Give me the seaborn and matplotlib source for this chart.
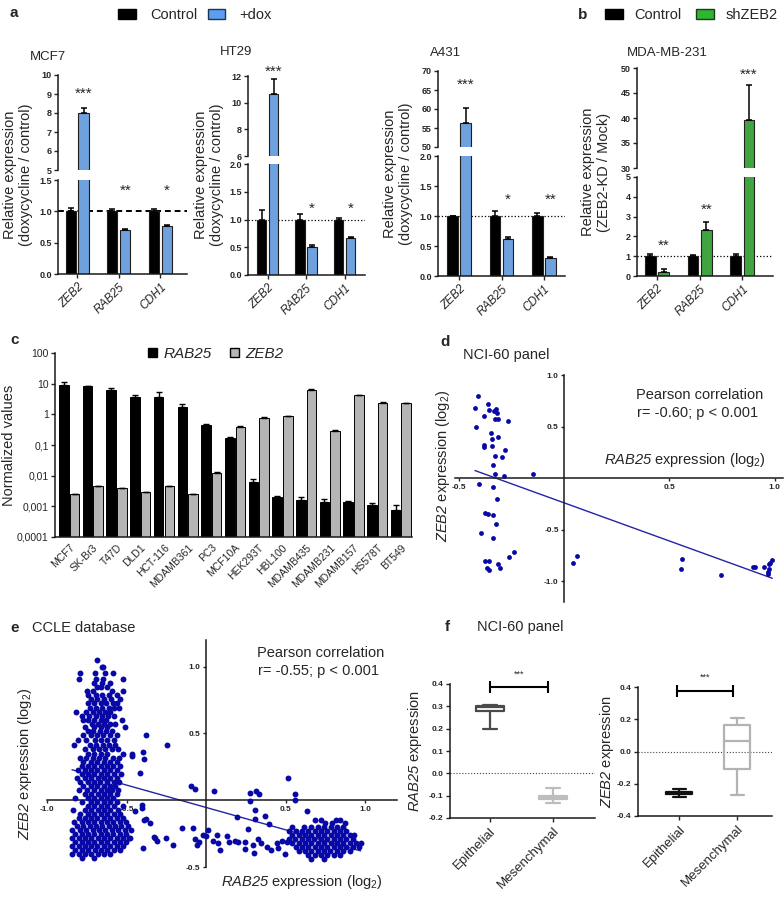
import numpy as np
import pandas as pd
import matplotlib
matplotlib.use('Agg')
import matplotlib.pyplot as plt
from matplotlib.patches import Patch
from matplotlib.ticker import NullLocator
import seaborn as sns

#-------------------------------------------------
# a / b : qPCR bars (broken y axis)
genes = ['ZEB2', 'RAB25', 'CDH1']
mcf7_ctrl, mcf7_ctrl_err = [1.0, 1.0, 1.0], [0.06, 0.04, 0.03]
mcf7_dox, mcf7_dox_err = [7.98, 0.71, 0.77], [0.26, 0.01, 0.015]
ht29_ctrl, ht29_ctrl_err = [1.0, 1.0, 1.0], [0.18, 0.10, 0.03]
ht29_dox, ht29_dox_err = [10.65, 0.51, 0.675], [1.12, 0.03, 0.01]
a431_ctrl, a431_ctrl_err = [1.0, 1.0, 1.0], [0.0, 0.08, 0.05]
a431_dox, a431_dox_err = [56.3, 0.62, 0.30], [4.0, 0.03, 0.02]
mda_ctrl, mda_ctrl_err = [1.0, 1.0, 1.0], [0.10, 0.08, 0.10]
mda_sh, mda_sh_err = [0.22, 2.32, 39.5], [0.12, 0.42, 7.2]

# c : cell line panel (log scale)
cells = ['MCF7', 'SK-Br3', 'T47D', 'DLD1', 'HCT-116', 'MDAMB361', 'PC3', 'MCF10A',
         'HEK293T', 'HBL100', 'MDAMB435', 'MDAMB231', 'MDAMB157', 'HS578T', 'BT549']
c_rab25 = [9.2, 8.1, 6.3, 3.8, 3.8, 1.8, 0.45, 0.17, 0.0063, 0.0020, 0.0016, 0.0014, 0.0014, 0.0011, 0.00074]
c_rab25_err = [1.8, 0.4, 1.1, 0.6, 1.4, 0.3, 0.03, 0.01, 0.0017, 0.0001, 0.0004, 0.0003, 0.0001, 0.0002, 0.0004]
c_zeb2 = [0.0026, 0.0047, 0.0041, 0.0030, 0.0047, 0.0025, 0.0125, 0.40, 0.78, 0.85, 6.0, 0.29, 4.3, 2.4, 2.3]
c_zeb2_err = [0, 0, 0, 0, 0, 0, 0.001, 0.01, 0.02, 0.02, 0.6, 0.01, 0.1, 0.05, 0.1]

# d : NCI-60 scatter
d_x = [-0.41, -0.425, -0.42, -0.365, -0.357, -0.381, -0.333, -0.325, -0.322, -0.329, -0.317, -0.27,
       -0.348, -0.317, -0.346, -0.381, -0.381, -0.346, -0.284, -0.329, -0.298, -0.341, -0.33, -0.287,
       -0.148, -0.405, -0.337, -0.321, -0.376, -0.365, -0.341, -0.325, -0.395, -0.341, -0.241, -0.265,
       -0.376, -0.357, -0.316, -0.367, -0.36, -0.306, 0.06, 0.041, 0.56, 0.556, 0.746, 0.897, 0.905,
       0.952, 0.973, 0.968, 0.973, 0.989, 0.979, 0.97]
d_y = [0.80, 0.68, 0.50, 0.72, 0.66, 0.60, 0.655, 0.667, 0.63, 0.57, 0.57, 0.556, 0.44, 0.40, 0.384,
       0.325, 0.30, 0.31, 0.276, 0.218, 0.205, 0.127, 0.036, 0.02, 0.042, -0.059, -0.088, -0.205,
       -0.338, -0.348, -0.358, -0.44, -0.533, -0.576, -0.715, -0.76, -0.803, -0.803, -0.83, -0.875,
       -0.894, -0.868, -0.758, -0.826, -0.784, -0.885, -0.943, -0.865, -0.865, -0.859, -0.878, -0.93,
       -0.836, -0.797, -0.823, -0.91]

# e : CCLE scatter, read row by row (y, [x ...])
e_left_rows = [
    (1.05, [-0.684]),
    (1.00, [-0.656, -0.648]),
    (0.95, [-0.792, -0.698, -0.636, -0.587]),
    (0.91, [-0.797, -0.692, -0.646, -0.52]),
    (0.88, [-0.704, -0.652, -0.605]),
    (0.85, [-0.687, -0.662, -0.625]),
    (0.82, [-0.747, -0.709, -0.593, -0.521]),
    (0.785, [-0.74, -0.69, -0.652, -0.613, -0.562]),
    (0.755, [-0.722, -0.683, -0.641, -0.598, -0.541]),
    (0.725, [-0.744, -0.703, -0.661, -0.628, -0.588, -0.557]),
    (0.69, [-0.731, -0.694, -0.652, -0.609, -0.578, -0.545]),
    (0.66, [-0.818, -0.752, -0.712, -0.671, -0.633, -0.601]),
    (0.63, [-0.782, -0.733, -0.692, -0.655, -0.617, -0.582]),
    (0.60, [-0.772, -0.741, -0.702, -0.663, -0.628, -0.53]),
    (0.57, [-0.718, -0.681, -0.643, -0.607, -0.574]),
    (0.545, [-0.761, -0.702, -0.659, -0.621, -0.509]),
    (0.515, [-0.743, -0.708, -0.668, -0.632, -0.592]),
    (0.485, [-0.771, -0.724, -0.684, -0.648, -0.603, -0.561]),
    (0.45, [-0.803, -0.752, -0.699, -0.662, -0.623, -0.581]),
    (0.41, [-0.83, -0.731, -0.692, -0.651, -0.612, -0.572]),
    (0.38, [-0.762, -0.713, -0.672, -0.633, -0.594, -0.553]),
    (0.35, [-0.741, -0.702, -0.661, -0.622, -0.52, -0.467]),
    (0.32, [-0.792, -0.753, -0.711, -0.672, -0.634, -0.583, -0.545]),
    (0.29, [-0.771, -0.722, -0.683, -0.643, -0.604, -0.562]),
    (0.26, [-0.782, -0.741, -0.702, -0.662, -0.623, -0.584, -0.54]),
    (0.23, [-0.803, -0.762, -0.721, -0.683, -0.641, -0.602, -0.563]),
    (0.20, [-0.781, -0.743, -0.702, -0.661, -0.622, -0.581, -0.532]),
    (0.17, [-0.812, -0.762, -0.724, -0.682, -0.643, -0.603, -0.561]),
    (0.14, [-0.792, -0.741, -0.703, -0.664, -0.624, -0.582, -0.548]),
    (0.11, [-0.771, -0.722, -0.684, -0.643, -0.604, -0.572]),
    (0.08, [-0.802, -0.751, -0.703, -0.662, -0.621, -0.592, -0.551]),
    (0.05, [-0.762, -0.721, -0.682, -0.644, -0.603, -0.563]),
    (0.02, [-0.822, -0.742, -0.703, -0.661, -0.622, -0.583]),
    (-0.01, [-0.781, -0.722, -0.684, -0.642, -0.603, -0.561]),
    (-0.04, [-0.742, -0.703, -0.663, -0.624, -0.582, -0.522]),
    (-0.07, [-0.835, -0.762, -0.722, -0.681, -0.642, -0.601, -0.552]),
    (-0.10, [-0.791, -0.743, -0.702, -0.663, -0.621, -0.582, -0.541]),
    (-0.13, [-0.802, -0.761, -0.723, -0.684, -0.643, -0.602, -0.563, -0.521]),
    (-0.16, [-0.831, -0.782, -0.741, -0.702, -0.662, -0.621, -0.583, -0.542, -0.502]),
    (-0.19, [-0.812, -0.772, -0.731, -0.692, -0.652, -0.613, -0.571, -0.532, -0.49]),
    (-0.22, [-0.842, -0.791, -0.752, -0.711, -0.672, -0.633, -0.592, -0.551, -0.512, -0.471]),
    (-0.25, [-0.821, -0.782, -0.743, -0.702, -0.661, -0.622, -0.583, -0.541, -0.503]),
    (-0.28, [-0.842, -0.801, -0.762, -0.721, -0.682, -0.643, -0.601, -0.562, -0.523, -0.482]),
    (-0.31, [-0.822, -0.781, -0.742, -0.703, -0.662, -0.621, -0.582, -0.543, -0.501]),
    (-0.34, [-0.843, -0.802, -0.761, -0.722, -0.683, -0.641, -0.602, -0.561, -0.522]),
    (-0.37, [-0.821, -0.782, -0.743, -0.701, -0.662, -0.623, -0.581, -0.54]),
    (-0.40, [-0.842, -0.801, -0.762, -0.722, -0.681, -0.642, -0.603]),
    (-0.43, [-0.781, -0.702]),
]
e_mid_x = [-0.377, -0.247, -0.467, -0.394, -0.39, -0.415, -0.092, -0.071, 0.052, 0.273, 0.312, 0.335,
           0.277, 0.516, 0.558, 0.558, -0.403, -0.403, -0.377, -0.352, 0.308, 0.193, 0.308, 0.373,
           0.398, 0.266, -0.149, -0.08, 0.013, -0.021, 0.0, -0.069, -0.044, -0.058, -0.321, -0.306,
           -0.206, -0.394, -0.478, 0.067, 0.046, 0.073, 0.088, 0.134, 0.147, 0.203, 0.245, 0.245,
           0.294, 0.327, 0.302, 0.346, 0.382, 0.411, 0.445, 0.455, 0.499, 0.476, 0.507, 0.184,
           -0.388, -0.325, -0.253, -0.447]
e_mid_y = [0.49, 0.41, 0.33, 0.36, 0.306, 0.207, 0.11, 0.085, 0.07, 0.055, 0.067, 0.045,
           -0.007, 0.167, 0.045, 0.0, -0.037, -0.057, -0.142, -0.167, -0.07, -0.122, -0.139, -0.117,
           -0.179, -0.214, -0.211, -0.209, -0.224, -0.259, -0.269, -0.289, -0.313, -0.338, -0.284, -0.308,
           -0.333, -0.358, -0.284, -0.264, -0.304, -0.323, -0.373, -0.269, -0.313, -0.313, -0.313, -0.363,
           -0.333, -0.289, -0.393, -0.323, -0.348, -0.373, -0.323, -0.36, -0.403, -0.304, -0.313, -0.304,
           -0.149, -0.274, -0.286, -0.082]
e_right_rows = [
    (-0.08, [0.637]),
    (-0.15, [0.686, 0.721, 0.818, 0.843]),
    (-0.17, [0.748, 0.79, 0.871]),
    (-0.20, [0.542, 0.618, 0.661, 0.702, 0.741, 0.782, 0.823, 0.862]),
    (-0.23, [0.521, 0.562, 0.601, 0.643, 0.682, 0.722, 0.761, 0.803, 0.842, 0.881]),
    (-0.26, [0.541, 0.582, 0.622, 0.661, 0.703, 0.741, 0.782, 0.822, 0.861, 0.902, 0.931]),
    (-0.29, [0.523, 0.561, 0.603, 0.642, 0.681, 0.722, 0.762, 0.801, 0.843, 0.882, 0.921]),
    (-0.32, [0.542, 0.581, 0.621, 0.662, 0.702, 0.741, 0.782, 0.821, 0.862, 0.902, 0.941, 0.972]),
    (-0.35, [0.563, 0.602, 0.641, 0.683, 0.722, 0.761, 0.802, 0.841, 0.882, 0.921, 0.962]),
    (-0.38, [0.582, 0.623, 0.662, 0.701, 0.742, 0.781, 0.822, 0.861, 0.902]),
    (-0.41, [0.641, 0.682, 0.722, 0.763, 0.801, 0.842]),
    (-0.44, [0.662, 0.741]),
]

# f : NCI-60 boxes (min, q1, median, q3, max)
f_groups = ['Epithelial', 'Mesenchymal']
f_rab_epi = [0.197, 0.277, 0.296, 0.301, 0.305]
f_rab_mes = [-0.1325, -0.116, -0.105, -0.102, -0.0635]
f_zeb_epi = [-0.285, -0.264, -0.258, -0.252, -0.235]
f_zeb_mes = [-0.27, -0.109, 0.064, 0.163, 0.208]

#-------------------------------------------------
W, H = 784, 901
BLUE, GREEN, GREY = '#5ba0f0', '#2fb52f', '#b5b5b5'
DOT = '#0808a6'

sns.set_style('ticks')
plt.rcParams['font.family'] = ['Liberation Sans', 'DejaVu Sans']
# mathtext: rm -> italic (gene names), sf -> upright (subscript)
plt.rcParams['mathtext.fontset'] = 'custom'
plt.rcParams['mathtext.rm'] = 'Liberation Sans:italic'
plt.rcParams['mathtext.it'] = 'Liberation Sans:italic'
plt.rcParams['mathtext.sf'] = 'Liberation Sans'
plt.rcParams['axes.linewidth'] = 1.1
plt.rcParams['axes.edgecolor'] = '#1a1a1a'

fig = plt.figure(figsize=(W / 100, H / 100), dpi=100)


def rect(x0, y0, x1, y1):
    return [x0 / W, 1 - y1 / H, (x1 - x0) / W, (y1 - y0) / H]


def ftext(x, y, s, **kw):
    return fig.text(x / W, 1 - y / H, s, **kw)


def bold_ticks(ax, size=6.5):
    ax.tick_params(axis='y', labelsize=size, length=3, width=1, pad=1.5)
    for t in ax.get_yticklabels():
        t.set_fontweight('bold')


def qpcr(box, ctrl, ctrl_err, trt, trt_err, trt_name, trt_col,
         lim_hi, lim_lo, tk_hi, tk_lo, fmt_hi, fmt_lo, xlim, stars, ref):
    x0, x1, yt, yg1, yg2, yb = box
    ax_hi = fig.add_axes(rect(x0, yt, x1, yg1))
    ax_lo = fig.add_axes(rect(x0, yg2, x1, yb))
    df = pd.DataFrame({'gene': genes * 2, 'grp': ['Control'] * 3 + [trt_name] * 3,
                       'val': ctrl + trt})
    err = ctrl_err + trt_err
    xs = []
    for ax, lim, tk, fmt in ((ax_hi, lim_hi, tk_hi, fmt_hi), (ax_lo, lim_lo, tk_lo, fmt_lo)):
        sns.barplot(data=df, x='gene', y='val', hue='grp', palette=['black', trt_col],
                    width=0.62, gap=0.2, errorbar=None, edgecolor='#202020', linewidth=0.8,
                    legend=False, ax=ax)
        xs = [p.get_x() + p.get_width() / 2 for c in ax.containers for p in c]
        hs = [p.get_height() for c in ax.containers for p in c]
        ax.errorbar(xs, hs, yerr=[[0] * 6, err], fmt='none', ecolor='black',
                    elinewidth=1.1, capsize=2.3, capthick=1.1)
        ax.set_xlim(*xlim)
        ax.set_ylim(*lim)
        ax.set_yticks(tk, labels=[fmt.format(v) for v in tk])
        ax.set_xlabel('')
        ax.set_ylabel('')
        sns.despine(ax=ax)
        bold_ticks(ax)
    ax_hi.spines['bottom'].set_visible(False)
    ax_hi.tick_params(axis='x', bottom=False, labelbottom=False)
    ax_lo.set_xticks(range(3))
    ax_lo.set_xticklabels(genes, rotation=45, ha='right', rotation_mode='anchor',
                          style='italic', fontsize=8.5)
    ax_lo.tick_params(axis='x', length=3, width=1, pad=2)
    ax_lo.axhline(1.0, ls=ref[0], lw=ref[1], color='black', zorder=0.5)
    for part, i, y, s in stars:
        ax = ax_hi if part == 'hi' else ax_lo
        ax.text(xs[i], y, s, ha='center', va='center', fontsize=11, clip_on=False)
    return ax_hi, ax_lo


# ---- panel a
qpcr((58, 187, 75, 170, 180, 274), mcf7_ctrl, mcf7_ctrl_err, mcf7_dox, mcf7_dox_err,
     '+dox', BLUE, (5, 10), (0, 1.5), [5, 6, 7, 8, 9, 10], [0, 0.5, 1.0, 1.5], '{:.0f}', '{:.1f}',
     (-0.46, 2.64), [('hi', 3, 9.0, '***'), ('lo', 4, 1.32, '**'), ('lo', 5, 1.32, '*')],
     ((0, (3, 2)), 1.4))
qpcr((248, 365, 76, 156, 164, 275), ht29_ctrl, ht29_ctrl_err, ht29_dox, ht29_dox_err,
     '+dox', BLUE, (6, 12), (0, 2.0), [6, 8, 10, 12], [0, 0.5, 1.0, 1.5, 2.0], '{:.0f}', '{:.1f}',
     (-0.51, 2.53), [('hi', 3, 12.35, '***'), ('lo', 4, 1.2, '*'), ('lo', 5, 1.2, '*')],
     (':', 0.9))
qpcr((438, 565, 71, 147, 156, 276), a431_ctrl, a431_ctrl_err, a431_dox, a431_dox_err,
     '+dox', BLUE, (50, 70), (0, 2.0), [50, 55, 60, 65, 70], [0, 0.5, 1.0, 1.5, 2.0], '{:.0f}', '{:.1f}',
     (-0.5, 2.5), [('hi', 3, 66.3, '***'), ('lo', 4, 1.27, '*'), ('lo', 5, 1.27, '**')],
     (':', 0.9))
for x, y, s in ((30, 57, 'MCF7'), (220, 52, 'HT29'), (430, 53, 'A431')):
    ftext(x, y, s, fontsize=9.5, va='center')
for x, yc in ((18, 175), (209, 175), (398, 174)):
    ftext(x, yc, 'Relative expression\n(doxycycline / control)', rotation=90,
          ha='center', va='center', fontsize=10.5, linespacing=1.1)
ftext(10, 13, 'a', fontsize=11, fontweight='bold', va='center')
fig.legend(handles=[Patch(facecolor='black', edgecolor='black'),
                    Patch(facecolor=BLUE, edgecolor='#1c3550')],
           labels=['Control', '+dox'], loc='center left',
           bbox_to_anchor=(118 / W, 1 - 15 / H), ncol=2, frameon=False, fontsize=10.5,
           handlelength=1.2, handleheight=0.7, handletextpad=1.0, columnspacing=0.7,
           borderpad=0, borderaxespad=0)

# ---- panel b
qpcr((637, 773, 68, 168, 177, 276), mda_ctrl, mda_ctrl_err, mda_sh, mda_sh_err,
     'shZEB2', GREEN, (30, 50), (0, 5), [30, 35, 40, 45, 50], [0, 1, 2, 3, 4, 5], '{:.0f}', '{:.0f}',
     (-0.47, 2.72), [('hi', 5, 48.6, '***'), ('lo', 4, 3.35, '**'), ('lo', 3, 1.55, '**')],
     (':', 0.9))
ftext(667, 53, 'MDA-MB-231', fontsize=9.5, ha='center', va='center')
ftext(596, 172, 'Relative expression\n(ZEB2-KD / Mock)', rotation=90,
      ha='center', va='center', fontsize=10.5, linespacing=1.1)
ftext(578, 15, 'b', fontsize=11, fontweight='bold', va='center')
fig.legend(handles=[Patch(facecolor='black', edgecolor='black'),
                    Patch(facecolor=GREEN, edgecolor='#1c3a1c')],
           labels=['Control', 'shZEB2'], loc='center left',
           bbox_to_anchor=(605 / W, 1 - 15 / H), ncol=2, frameon=False, fontsize=10.5,
           handlelength=1.2, handleheight=0.7, handletextpad=0.8, columnspacing=1.0,
           borderpad=0, borderaxespad=0)

# ---- panel c
ax_c = fig.add_axes(rect(55, 353, 412, 537))
df_c = pd.DataFrame({'cell': cells * 2, 'gene': ['RAB25'] * 15 + ['ZEB2'] * 15,
                     'val': c_rab25 + c_zeb2})
sns.barplot(data=df_c, x='cell', y='val', hue='gene', palette=['black', GREY], width=0.9, gap=0.1,
            errorbar=None, edgecolor='black', linewidth=0.7, legend=False, ax=ax_c)
ax_c.set_yscale('log')
cx = [p.get_x() + p.get_width() / 2 for c in ax_c.containers for p in c]
ch = [p.get_height() for c in ax_c.containers for p in c]
ax_c.errorbar(cx, ch, yerr=[[0] * 30, c_rab25_err + c_zeb2_err], fmt='none', ecolor='black',
              elinewidth=1, capsize=2, capthick=1)
ax_c.set_ylim(1e-4, 100)
ax_c.set_xlim(-0.6, 14.47)
ax_c.set_yticks([1e-4, 1e-3, 1e-2, 1e-1, 1, 10, 100],
                labels=['0,0001', '0,001', '0,01', '0,1', '1', '10', '100'])
ax_c.yaxis.set_minor_locator(NullLocator())
ax_c.tick_params(axis='y', labelsize=7.5, length=3, width=1, pad=1.5)
ax_c.set_xticks(range(15))
ax_c.set_xticklabels(cells, rotation=45, ha='right', rotation_mode='anchor', fontsize=7.5)
ax_c.tick_params(axis='x', length=0, pad=4)
ax_c.set_xlabel('')
ax_c.set_ylabel('')
sns.despine(ax=ax_c)
ftext(9, 445, 'Normalized values', rotation=90, ha='center', va='center', fontsize=10.5)
ftext(10, 340, 'c', fontsize=11, fontweight='bold', va='center')
fig.legend(handles=[Patch(facecolor='black', edgecolor='black'),
                    Patch(facecolor=GREY, edgecolor='black')],
           labels=['RAB25', 'ZEB2'], loc='center left', prop={'style': 'italic', 'size': 11},
           bbox_to_anchor=(148 / W, 1 - 354 / H), ncol=2, frameon=False,
           handlelength=0.6, handleheight=0.6, handletextpad=0.4, columnspacing=1.2,
           borderpad=0, borderaxespad=0)


# ---- scatter helpers (d, e)
def cross_axes(ax, xt, yt, xlim, ylim):
    ax.set_xlim(*xlim)
    ax.set_ylim(*ylim)
    ax.spines['left'].set_position(('data', 0))
    ax.spines['bottom'].set_position(('data', 0))
    ax.spines[['top', 'right']].set_visible(False)
    ax.set_xticks(xt, labels=['{:.1f}'.format(v) for v in xt])
    ax.set_yticks(yt, labels=['{:.1f}'.format(v) for v in yt])
    ax.tick_params(labelsize=6, length=2.5, width=1, pad=1.5)
    for t in ax.get_xticklabels() + ax.get_yticklabels():
        t.set_fontweight('bold')
    ax.set_xlabel('')
    ax.set_ylabel('')
    ax.patch.set_alpha(0)


XLAB = r'$\mathrm{RAB25}$ expression (log$_\mathsf{2}$)'
YLAB = r'$\mathrm{ZEB2}$ expression (log$_\mathsf{2}$)'

# ---- panel d
ax_d = fig.add_axes(rect(455, 375, 783, 602))
sns.regplot(x=d_x, y=d_y, scatter=False, ci=None, color='#2323a8', line_kws={'lw': 1}, ax=ax_d)
sns.scatterplot(x=d_x, y=d_y, color=DOT, s=12, linewidth=0, ax=ax_d, zorder=3)
cross_axes(ax_d, [-0.5, 0.5, 1.0], [-1.0, -0.5, 0.5, 1.0], (-0.52, 1.04), (-1.2, 1.0))
ftext(440, 342, 'd', fontsize=11, fontweight='bold', va='center')
ftext(463, 355, 'NCI-60 panel', fontsize=10.5, va='center')
ftext(700, 395, 'Pearson correlation', fontsize=10.5, ha='center', va='center')
ftext(698, 413, 'r= -0.60; p < 0.001', fontsize=10.5, ha='center', va='center')
ftext(685, 460, XLAB, fontsize=10.5, ha='center', va='center')
ftext(443, 466, YLAB, fontsize=10.5, rotation=90, ha='center', va='center')

# ---- panel e
e_x = [x for y, xs in e_left_rows for x in xs] + e_mid_x + [x for y, xs in e_right_rows for x in xs]
e_y = [y for y, xs in e_left_rows for x in xs] + e_mid_y + [y for y, xs in e_right_rows for x in xs]
ax_e = fig.add_axes(rect(47, 640, 397, 867))
sns.regplot(x=e_x, y=e_y, scatter=False, ci=None, color='#2323a8', line_kws={'lw': 1}, ax=ax_e)
sns.scatterplot(x=e_x, y=e_y, color=DOT, s=18, linewidth=0, ax=ax_e, zorder=3)
cross_axes(ax_e, [-1.0, -0.5, 0.5, 1.0], [-0.5, 0.5, 1.0], (-1.0, 1.2), (-0.5, 1.2))
ftext(10, 628, 'e', fontsize=11, fontweight='bold', va='center')
ftext(32, 628, 'CCLE database', fontsize=10.5, va='center')
ftext(321, 653, 'Pearson correlation', fontsize=10.5, ha='center', va='center')
ftext(318, 671, 'r= -0.55; p < 0.001', fontsize=10.5, ha='center', va='center')
ftext(302, 882, XLAB, fontsize=10.5, ha='center', va='center')
ftext(25, 764, YLAB, fontsize=10.5, rotation=90, ha='center', va='center')


# ---- panel f
def box_panel(r, epi, mes, cols, ylim, yt, xlim, brk, star_y, ylab, ylab_x):
    ax = fig.add_axes(rect(*r))
    grp = [f_groups[0]] * len(epi) + [f_groups[1]] * len(mes)
    ax.axhline(0, ls=':', lw=0.8, color='#444444', zorder=0.5)
    sns.boxplot(x=grp, y=epi + mes, hue=grp, palette=cols, fill=False, whis=(0, 100),
                width=0.45, linewidth=1.6, legend=False, ax=ax)
    ax.set_xlim(*xlim)
    ax.set_ylim(*ylim)
    ax.set_yticks(yt, labels=['{:.1f}'.format(v) for v in yt])
    bold_ticks(ax, 6)
    ax.set_xticks([0, 1])
    ax.set_xticklabels(f_groups, rotation=45, ha='right', rotation_mode='anchor', fontsize=9.5)
    ax.tick_params(axis='x', length=3, width=1, pad=2)
    ax.set_xlabel('')
    ax.set_ylabel('')
    sns.despine(ax=ax)
    ax.plot(brk[0], brk[1], color='black', lw=1.5, marker='|', markersize=8, mew=1.5, clip_on=False)
    ax.text(sum(brk[0]) / 2, star_y, '***', ha='center', va='center', fontsize=6.5, clip_on=False)
    ftext(ylab_x, (r[1] + r[3]) / 2, ylab, rotation=90, ha='center', va='center', fontsize=10.5)
    return ax


box_panel((450, 684, 595, 818), f_rab_epi, f_rab_mes, ['#4a4a4a', '#bdbdbd'], (-0.2, 0.4),
          [-0.2, -0.1, 0.0, 0.1, 0.2, 0.3, 0.4], (-0.63, 1.67), ([0, 0.92], [0.385, 0.385]),
          0.445, r'$\mathrm{RAB25}$ expression', 415)
box_panel((638, 687, 772, 816), f_zeb_epi, f_zeb_mes, ['#111111', '#b3b3b3'], (-0.4, 0.4),
          [-0.4, -0.2, 0.0, 0.2, 0.4], (-0.71, 1.6), ([-0.04, 0.92], [0.373, 0.373]),
          0.46, r'$\mathrm{ZEB2}$ expression', 607)
ftext(445, 627, 'f', fontsize=11, fontweight='bold', va='center')
ftext(477, 627, 'NCI-60 panel', fontsize=10.5, va='center')

fig.savefig('out.png', dpi=100)
